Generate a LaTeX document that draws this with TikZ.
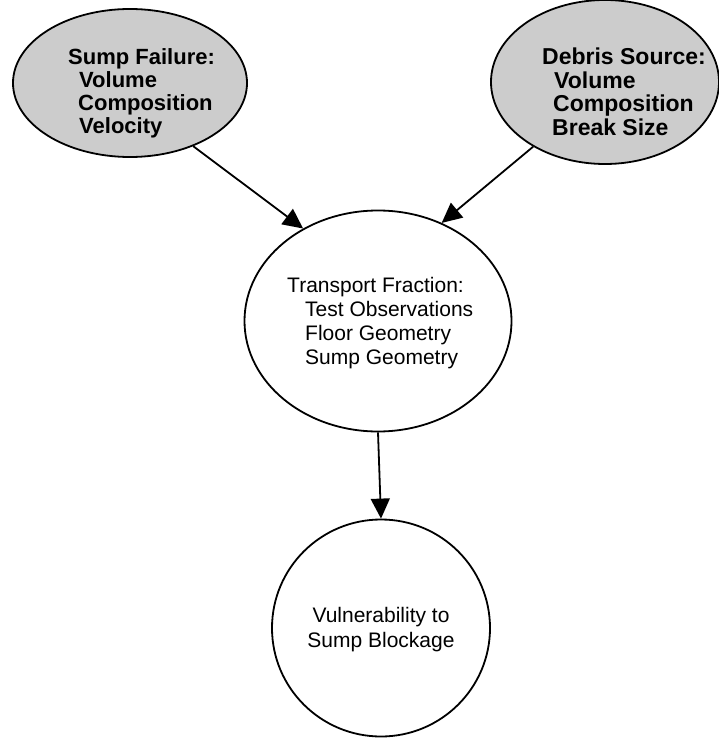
\documentclass[tikz,border=0pt]{standalone}
\usepackage{fontspec}
\setmainfont{Liberation Sans}
\usetikzlibrary{arrows.meta,shapes.geometric}
\begin{document}
\begin{tikzpicture}[x=1pt,y=-1pt,
  bubble/.style={draw=black, line width=1.8pt, ellipse, inner sep=0pt},
  shaded/.style={bubble, fill=black!20},
  plain/.style={bubble, fill=white},
  lbl/.style={inner sep=0pt, anchor=base west},
  clbl/.style={inner sep=0pt, anchor=base},
  arr/.style={line width=1.8pt, -{Triangle[length=20pt,width=19pt]}}
]
\useasboundingbox (0,0) rectangle (719,738);
% nodes
\node[shaded, minimum width=234pt, minimum height=148pt] (sf) at (130,83) {};
\node[shaded, minimum width=228pt, minimum height=164pt] (ds) at (605,82) {};
\node[plain, minimum width=267pt, minimum height=221pt] (tf) at (378,321) {};
\node[plain, minimum width=218pt, minimum height=217pt] (vb) at (381,628) {};
% texts
\node[lbl] (sft) at (68,65) {\fontsize{22}{22.7}\selectfont\bfseries
  \begin{tabular}[t]{@{}l@{}}Sump Failure:\\\hspace*{11pt}Volume\\\hspace*{10pt}Composition\\\hspace*{11pt}Velocity\end{tabular}};
\node[lbl] (dst) at (542,65) {\fontsize{23}{22.7}\selectfont\bfseries
  \begin{tabular}[t]{@{}l@{}}Debris Source:\\\hspace*{12pt}Volume\\\hspace*{11pt}Composition\\\hspace*{10pt}Break Size\end{tabular}};
\node[lbl] (tft) at (287,292) {\fontsize{21}{24.3}\selectfont
  \begin{tabular}[t]{@{}l@{}}Transport Fraction:\\\hspace*{18pt}Test Observations\\\hspace*{18pt}Floor Geometry\\\hspace*{18pt}Sump Geometry\end{tabular}};
\node[clbl] (vbt) at (381,622) {\fontsize{21}{25}\selectfont
  \begin{tabular}[t]{@{}c@{}}Vulnerability to\\Sump Blockage\end{tabular}};
% connectors
\draw[arr] (sf.-45) -- (tf.129);
\draw[arr] (ds.222) -- (tf.57);
\draw[arr] (tf.south) -- (vb.north);
\end{tikzpicture}
\end{document}
